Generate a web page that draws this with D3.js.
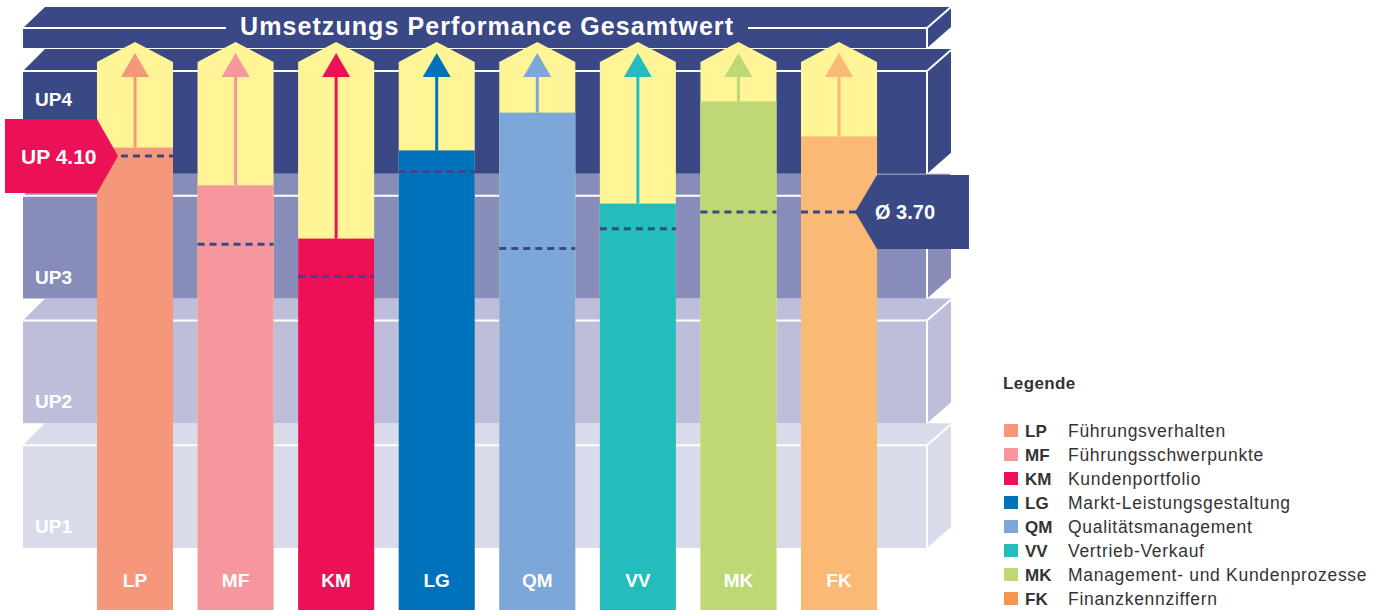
<!DOCTYPE html>
<html>
<head>
<meta charset="utf-8">
<script src="https://cdn.jsdelivr.net/npm/d3@7"></script>
<style>
  body { margin: 0; background: #fff; }
  svg { display: block; font-family: "Liberation Sans", Arial, sans-serif; }
</style>
</head>
<body>
<svg id="chart" width="1383" height="610"></svg>
<script>
// categories and their long names
const categories = ["LP", "MF", "KM", "LG", "QM", "VV", "MK", "FK"];
const categoryNames = [
  "Führungsverhalten",
  "Führungsschwerpunkte",
  "Kundenportfolio",
  "Markt-Leistungsgestaltung",
  "Qualitätsmanagement",
  "Vertrieb-Verkauf",
  "Management- und Kundenprozesse",
  "Finanzkennziffern"
];
const barColors = ["#f5977a", "#f6979d", "#ec1157", "#0071bb", "#7ca7d8", "#24bcbd", "#bdd874", "#fab974"];
const legendColors = ["#f5977a", "#f6979d", "#ec1157", "#0071bb", "#7ca7d8", "#24bcbd", "#bdd874", "#f7954f"];

// values
const performance = [4.16, 3.89, 3.51, 4.14, 4.41, 3.76, 4.49, 4.24];
const marks = [4.10, 3.47, 3.24, 3.99, 3.44, 3.58, 3.70, 3.70];
const upTotal = 4.10;
const average = 3.70;

// the UP levels (top to bottom)
const levels = ["UP4", "UP3", "UP2", "UP1"];
const levelColors = ["#3b4886", "#888cb8", "#bdbfda", "#d9dbea"];
const title = "Umsetzungs Performance Gesamtwert";

const navy = "#3b4886";
const yellow = "#fff597";

const svg = d3.select("#chart");
const bottom = 610;

const x = d3.scaleBand()
  .domain(categories)
  .range([84.7, 889.3])
  .paddingInner(0.244)
  .paddingOuter(0.122);

const y = d3.scaleLinear()
  .domain([average, upTotal])
  .range([212, 156]);

const band = d3.scaleBand()
  .domain(levels)
  .range([49, 548]);

const boxLeft = 23, boxRight = 927, dx = 24, dy = 21;

function box(g, top, frontTop, frontBottom, fill) {
  g.append("path")
    .attr("fill", fill)
    .attr("d", `M${boxLeft},${frontTop} L${boxLeft + dx - 2},${top} L${boxRight + dx},${top}
      L${boxRight + dx},${frontBottom - dy} L${boxRight},${frontBottom} L${boxLeft},${frontBottom} Z`);
  g.append("line")
    .attr("x1", boxRight).attr("y1", frontTop)
    .attr("x2", boxRight).attr("y2", frontBottom)
    .attr("stroke", "#fff").attr("stroke-width", 2);
  g.append("line")
    .attr("x1", boxRight).attr("y1", frontTop)
    .attr("x2", boxRight + dx).attr("y2", frontTop - dy)
    .attr("stroke", "#fff").attr("stroke-width", 2);
}

// level boxes, bottom first
const boxes = svg.append("g");
levels.slice().reverse().forEach(lv => {
  const i = levels.indexOf(lv);
  const top = band(lv);
  const frontTop = top + 22;
  const frontBottom = top + band.step();
  const g = boxes.append("g");
  box(g, top, frontTop, frontBottom, levelColors[i]);
  g.append("line")
    .attr("x1", boxLeft).attr("y1", frontTop)
    .attr("x2", boxRight).attr("y2", frontTop)
    .attr("stroke", "#fff").attr("stroke-width", 2);
  g.append("text")
    .attr("x", 35)
    .attr("y", lv === "UP4" ? frontTop + 35 : frontBottom - 15)
    .attr("fill", "#fff")
    .attr("font-size", 19)
    .attr("font-weight", "bold")
    .text(lv);
});

// title box
const tg = svg.append("g");
box(tg, 7, 28, 48, navy);
tg.append("text")
  .attr("x", 240)
  .attr("y", 35)
  .attr("fill", "#fff")
  .attr("font-size", 25)
  .attr("font-weight", "bold")
  .attr("textLength", 493)
  .attr("lengthAdjust", "spacing")
  .text(title);
tg.append("line")
  .attr("x1", boxLeft).attr("y1", 28).attr("x2", 226).attr("y2", 28)
  .attr("stroke", "#fff").attr("stroke-width", 2);
tg.append("line")
  .attr("x1", 748).attr("y1", 28).attr("x2", boxRight).attr("y2", 28)
  .attr("stroke", "#fff").attr("stroke-width", 2);

// columns
const cols = svg.append("g")
  .selectAll("g")
  .data(categories)
  .join("g");

const w = x.bandwidth();

cols.append("path")
  .attr("fill", yellow)
  .attr("d", d => {
    const x0 = x(d), cx = x0 + w / 2;
    return `M${x0},${bottom} L${x0},62 L${cx},42 L${x0 + w},62 L${x0 + w},${bottom} Z`;
  });

cols.append("rect")
  .attr("x", d => x(d))
  .attr("y", (d, i) => y(performance[i]))
  .attr("width", w)
  .attr("height", (d, i) => bottom - y(performance[i]))
  .attr("fill", (d, i) => barColors[i]);

cols.append("line")
  .attr("x1", d => x(d) + w / 2)
  .attr("x2", d => x(d) + w / 2)
  .attr("y1", (d, i) => y(performance[i]))
  .attr("y2", 76)
  .attr("stroke", (d, i) => barColors[i])
  .attr("stroke-width", 3);

cols.append("path")
  .attr("fill", (d, i) => barColors[i])
  .attr("d", d => {
    const cx = x(d) + w / 2;
    return `M${cx},53 L${cx + 14},77 L${cx - 14},77 Z`;
  });

cols.append("line")
  .attr("x1", d => x(d))
  .attr("x2", d => x(d) + w)
  .attr("y1", (d, i) => y(marks[i]))
  .attr("y2", (d, i) => y(marks[i]))
  .attr("stroke", navy)
  .attr("stroke-width", 3)
  .attr("stroke-dasharray", "7,5");

cols.append("text")
  .attr("x", d => x(d) + w / 2)
  .attr("y", 587)
  .attr("text-anchor", "middle")
  .attr("fill", "#fff")
  .attr("font-size", 19)
  .attr("font-weight", "bold")
  .text(d => d);

// UP total badge on the first column
const firstX = x(categories[0]);
const yu = y(upTotal);
svg.append("path")
  .attr("fill", "#ec1157")
  .attr("d", `M5,${yu - 37} L${firstX},${yu - 37} L${firstX + 21},${yu} L${firstX},${yu + 37} L5,${yu + 37} Z`);
svg.append("text")
  .attr("x", 21)
  .attr("y", yu + 8)
  .attr("fill", "#fff")
  .attr("font-size", 21)
  .attr("font-weight", "bold")
  .text("UP " + upTotal.toFixed(2));

// average badge on the last column
const lastX = x(categories[categories.length - 1]) + w;
const ya = y(average);
svg.append("path")
  .attr("fill", navy)
  .attr("d", `M969,${ya - 37} L${lastX},${ya - 37} L${lastX - 22},${ya} L${lastX},${ya + 37} L969,${ya + 37} Z`);
svg.append("text")
  .attr("x", 875)
  .attr("y", ya + 7)
  .attr("fill", "#fff")
  .attr("font-size", 20)
  .attr("font-weight", "bold")
  .text("Ø " + average.toFixed(2));

// legend
const legend = svg.append("g").attr("fill", "#333");
legend.append("text")
  .attr("x", 1003)
  .attr("y", 389)
  .attr("font-size", 17)
  .attr("font-weight", "bold")
  .attr("letter-spacing", 0.4)
  .text("Legende");

const items = legend.selectAll("g.item")
  .data(categories)
  .join("g")
  .attr("class", "item")
  .attr("transform", (d, i) => `translate(0,${437 + i * 24})`);

items.append("rect")
  .attr("x", 1004).attr("y", -13)
  .attr("width", 14).attr("height", 13)
  .attr("fill", (d, i) => legendColors[i]);
items.append("text")
  .attr("x", 1025)
  .attr("font-size", 17)
  .attr("font-weight", "bold")
  .text(d => d);
items.append("text")
  .attr("x", 1068)
  .attr("font-size", 17.5)
  .attr("letter-spacing", 0.7)
  .text((d, i) => categoryNames[i]);
</script>
</body>
</html>
